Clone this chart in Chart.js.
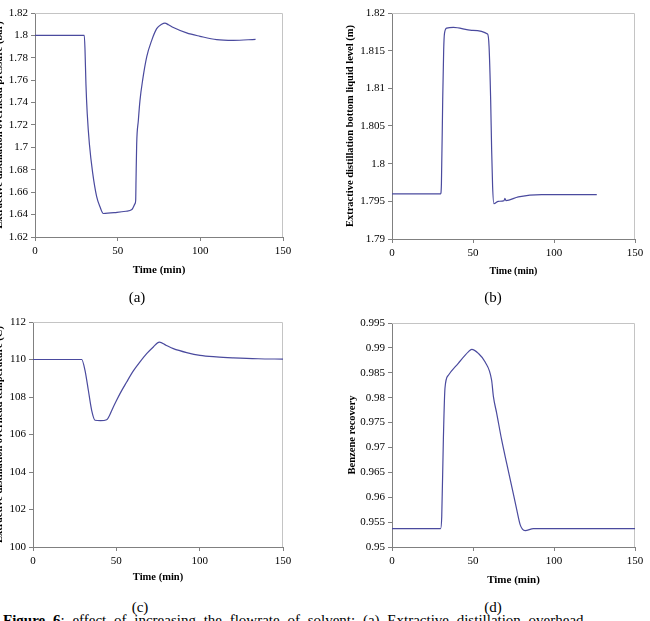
<!DOCTYPE html>
<html>
<head>
<meta charset="utf-8">
<script src="https://cdn.jsdelivr.net/npm/chart.js"></script>
<style>
body { margin:0; width:650px; height:621px; overflow:hidden; background:#fff; position:relative; font-family:'Liberation Serif', serif; }
canvas { position:absolute; }
.lbl { position:absolute; font-size:15px; transform:translate(-50%,-50%); white-space:nowrap; }
#caption { position:absolute; left:3px; top:612px; font-size:15px; white-space:nowrap; word-spacing:4px; }
</style>
</head>
<body>
<canvas id="chartA" width="310" height="280" style="left:-10px;top:0px"></canvas>
<canvas id="chartB" width="325" height="280" style="left:325px;top:0px"></canvas>
<canvas id="chartC" width="310" height="290" style="left:-10px;top:300px"></canvas>
<canvas id="chartD" width="325" height="290" style="left:325px;top:300px"></canvas>
<div class="lbl" style="left:137px;top:297px">(a)</div>
<div class="lbl" style="left:493px;top:297px">(b)</div>
<div class="lbl" style="left:140px;top:607px">(c)</div>
<div class="lbl" style="left:493px;top:607px">(d)</div>
<div id="caption"><b>Figure 6</b>: effect of increasing the flowrate of solvent: (a) Extractive distillation overhead</div>
<script>
// (a) presion de cabeza
var tiempoA = [0, 29.8, 30.25, 30.8, 31.6, 32.9, 34.9, 37.3, 39.3, 41.3, 49.6, 55, 58.6, 60.5, 60.9, 61.1, 61.5, 62.5, 63.5, 65.1, 67.6, 70.6, 73.6, 76.6, 78.6, 80.7, 83.7, 91.7, 99.8, 109.9, 120, 133.4];
var presionA = [1.8, 1.8, 1.787, 1.757, 1.73, 1.703, 1.677, 1.656, 1.647, 1.641, 1.642, 1.643, 1.6445, 1.6498, 1.6528, 1.6706, 1.703, 1.724, 1.742, 1.76, 1.781, 1.7956, 1.806, 1.8099, 1.811, 1.8095, 1.807, 1.8022, 1.7992, 1.7962, 1.7956, 1.7965];

// (b) nivel de fondo
var tiempoB = [0, 30, 30.5, 31.3, 31.9, 32.4, 33.8, 37.9, 49.2, 59, 59.9, 60.9, 61.5, 62.1, 62.9, 65.6, 69.2, 69.7, 70.3, 78, 92.4, 126.4];
var nivelB = [1.796, 1.796, 1.7973, 1.8085, 1.8151, 1.8173, 1.818, 1.8181, 1.8177, 1.8172, 1.8156, 1.8085, 1.8019, 1.797, 1.7947, 1.795, 1.7951, 1.7954, 1.7951, 1.7956, 1.7959, 1.7959];

// (c) temperatura de cabeza
var tiempoC = [0, 29.2, 31.2, 33.2, 35.2, 37.2, 40.5, 44.2, 48.2, 52.2, 56.2, 60.2, 64.2, 68.2, 72.2, 75.8, 80, 84.2, 92.2, 100.2, 110, 120.2, 135, 150];
var tempC = [110, 110, 109.42, 108.36, 107.29, 106.76, 106.74, 106.79, 107.47, 108.18, 108.8, 109.39, 109.87, 110.31, 110.67, 110.93, 110.75, 110.58, 110.37, 110.22, 110.14, 110.09, 110.04, 110.02];

// (d) recuperacion de benceno
var tiempoD = [0, 30, 30.7, 31.7, 32.7, 34.8, 40.9, 47.1, 49.2, 53.3, 57.4, 61.5, 62.6, 64.6, 67.7, 70.8, 73.9, 77, 79.1, 80.5, 82.2, 87.3, 150];
var recupD = [0.9537, 0.9537, 0.9561, 0.9715, 0.9819, 0.9845, 0.9869, 0.9892, 0.9897, 0.9889, 0.9872, 0.9835, 0.9802, 0.9769, 0.9715, 0.9668, 0.9622, 0.9575, 0.9545, 0.9536, 0.9533, 0.9537, 0.9537];

var xTicks = [0, 50, 100, 150];

var colorLinea = '#4a4a9e';
var fuente = "'Liberation Serif', 'Times New Roman', serif";

// marco gris claro arriba y a la derecha
var marco = {
    id: 'marco',
    beforeDatasetsDraw: function(chart) {
        var a = chart.chartArea, c = chart.ctx;
        c.save();
        c.strokeStyle = '#c4c4c4';
        c.lineWidth = 1;
        c.beginPath();
        c.moveTo(a.left, a.top + 0.5);
        c.lineTo(Math.round(a.right) - 0.5, a.top + 0.5);
        c.lineTo(Math.round(a.right) - 0.5, a.bottom);
        c.stroke();
        c.restore();
    }
};

function dibujarGrafico(id, tiempos, valores, o) {
    var ctx = document.getElementById(id).getContext('2d');
    var puntos = tiempos.map(function(t, i) { return {x: t, y: valores[i]}; });
    return new Chart(ctx, {
        type: 'line',
        data: {
            datasets: [{
                data: puntos,
                borderColor: colorLinea,
                borderWidth: 1.2,
                pointRadius: 0,
                cubicInterpolationMode: 'monotone',
                fill: false
            }]
        },
        options: {
            responsive: false,
            animation: false,
            layout: { padding: { left: 0, top: o.top, right: o.right, bottom: 0 } },
            plugins: { legend: { display: false }, tooltip: { enabled: false } },
            scales: {
                x: {
                    type: 'linear',
                    min: 0, max: 150,
                    afterBuildTicks: function(s) { s.ticks = xTicks.map(function(v) { return {value: v}; }); },
                    afterFit: function(s) { s.height = o.xH; },
                    grid: { drawOnChartArea: false, drawTicks: true, tickLength: 4, color: '#808080' },
                    border: { color: '#808080' },
                    ticks: { color: '#000', font: { family: fuente, size: 11 }, padding: 4, maxRotation: 0 },
                    title: { display: true, text: 'Time (min)', color: '#000', font: { family: fuente, size: o.xSize, weight: 'bold' }, padding: { top: 0, bottom: o.xPad } }
                },
                y: {
                    min: o.min, max: o.max,
                    ticks: {
                        stepSize: o.step, color: '#000', font: { family: fuente, size: 11 }, padding: 3,
                        callback: function(v) { return String(parseFloat(v.toFixed(4))); }
                    },
                    afterFit: function(s) { s.width = o.yW; },
                    grid: { drawOnChartArea: false, drawTicks: true, tickLength: 4, color: '#808080' },
                    border: { color: '#808080' },
                    title: { display: true, text: o.yTitle, color: '#000', font: { family: fuente, size: 10.5, weight: 'bold' }, padding: { top: o.yPad, bottom: 0 } }
                }
            }
        },
        plugins: [marco]
    });
}

dibujarGrafico('chartA', tiempoA, presionA, {
    min: 1.62, max: 1.82, step: 0.02, yTitle: 'Extractive distillation overhead pressure (bar)',
    top: 13, right: 17, yW: 45, xH: 43, yPad: 3, xPad: 3, xSize: 11
});
dibujarGrafico('chartB', tiempoB, nivelB, {
    min: 1.79, max: 1.82, step: 0.005, yTitle: 'Extractive distillation bottom liquid level (m)',
    top: 13, right: 15, yW: 67, xH: 41, yPad: 19, xPad: 3, xSize: 10
});
dibujarGrafico('chartC', tiempoC, tempC, {
    min: 100, max: 112, step: 2, yTitle: 'Extractive distillation overhead temperature (C)',
    top: 22, right: 17, yW: 43, xH: 43, yPad: 3, xPad: 6, xSize: 10.5
});
dibujarGrafico('chartD', tiempoD, recupD, {
    min: 0.95, max: 0.995, step: 0.005, yTitle: 'Benzene recovery',
    top: 23, right: 15, yW: 67, xH: 43, yPad: 21, xPad: 3, xSize: 11
});
</script>
</body>
</html>
